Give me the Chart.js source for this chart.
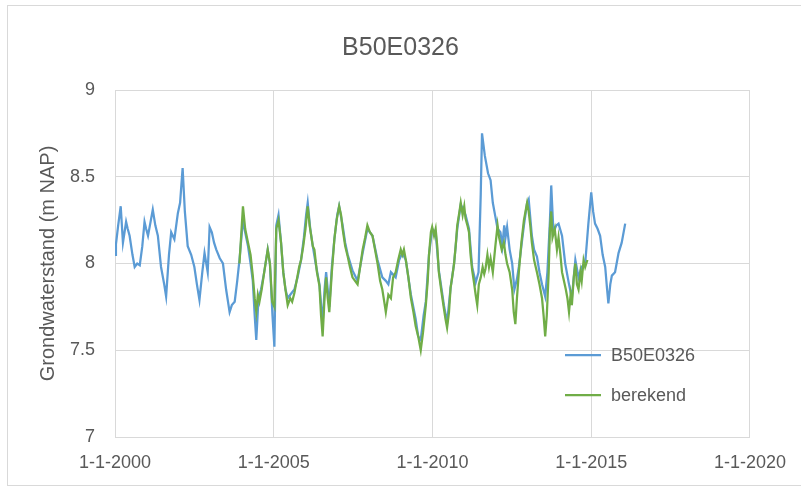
<!DOCTYPE html>
<html>
<head>
<meta charset="utf-8">
<script src="https://cdn.jsdelivr.net/npm/chart.js@4.4.0/dist/chart.umd.min.js"></script>
<style>
  html, body { margin: 0; padding: 0; background: #ffffff; }
  #wrap { position: relative; width: 801px; height: 488px; }
</style>
</head>
<body>
<div id="wrap"><canvas id="c" width="801" height="488"></canvas></div>
<script>
// ---- data ----
const chartTitle = 'B50E0326';
const yAxisTitle = 'Grondwaterstand (m NAP)';
const seriesNames = ['B50E0326', 'berekend'];
const xTickYears = [2000, 2005, 2010, 2015, 2020];
const yTicks = [7, 7.5, 8, 8.5, 9];

const measuredYears = [
  2000.00, 2000.03, 2000.10, 2000.18, 2000.25, 2000.30, 2000.35, 2000.40, 2000.46, 2000.55,
  2000.62, 2000.70, 2000.78, 2000.86, 2000.93, 2000.98, 2001.04, 2001.12, 2001.19, 2001.27,
  2001.35, 2001.45, 2001.55, 2001.61, 2001.70, 2001.77, 2001.87, 2001.98, 2002.05, 2002.13,
  2002.20, 2002.29, 2002.40, 2002.50, 2002.58, 2002.66, 2002.75, 2002.82, 2002.92, 2002.98,
  2003.05, 2003.12, 2003.19, 2003.30, 2003.40, 2003.50, 2003.61, 2003.68, 2003.77, 2003.85,
  2003.92, 2004.03, 2004.10, 2004.19, 2004.27, 2004.34, 2004.40, 2004.45, 2004.52, 2004.60,
  2004.70, 2004.81, 2004.88, 2004.96, 2005.02, 2005.08, 2005.15, 2005.23, 2005.30, 2005.37,
  2005.44, 2005.52, 2005.65, 2005.75, 2005.86, 2005.95, 2006.02, 2006.07, 2006.15, 2006.23,
  2006.32, 2006.44, 2006.54, 2006.60, 2006.65, 2006.75, 2006.83, 2006.91, 2007.00, 2007.06,
  2007.17, 2007.25, 2007.33, 2007.48, 2007.64, 2007.80, 2007.95, 2008.11, 2008.27, 2008.42,
  2008.53, 2008.61, 2008.69, 2008.84, 2008.95, 2009.05, 2009.16, 2009.32, 2009.47, 2009.55,
  2009.63, 2009.72, 2009.79, 2009.89, 2009.99, 2010.10, 2010.20, 2010.36, 2010.46, 2010.57,
  2010.68, 2010.78, 2010.89, 2011.04, 2011.15, 2011.25, 2011.36, 2011.45, 2011.52, 2011.56,
  2011.65, 2011.75, 2011.83, 2011.90, 2011.98, 2012.05, 2012.14, 2012.20, 2012.26, 2012.30,
  2012.35, 2012.43, 2012.51, 2012.58, 2012.66, 2012.72, 2012.80, 2012.88, 2012.98, 2013.03,
  2013.13, 2013.20, 2013.29, 2013.37, 2013.45, 2013.55, 2013.62, 2013.70, 2013.74, 2013.81,
  2013.90, 2013.97, 2014.08, 2014.18, 2014.29, 2014.39, 2014.50, 2014.60, 2014.70, 2014.81,
  2014.91, 2015.00, 2015.06, 2015.12, 2015.20, 2015.28, 2015.36, 2015.44, 2015.50, 2015.54,
  2015.60, 2015.65, 2015.75, 2015.80, 2015.86, 2015.96, 2016.07
];
const measuredValues = [
  8.05, 8.11, 8.22, 8.33, 8.12, 8.18, 8.24, 8.20, 8.16, 8.05,
  7.98, 8.00, 7.99, 8.10, 8.24, 8.20, 8.16, 8.24, 8.31, 8.22,
  8.16, 7.98, 7.88, 7.81, 8.05, 8.18, 8.14, 8.29, 8.35, 8.55,
  8.30, 8.10, 8.05, 7.98, 7.88, 7.79, 7.95, 8.06, 7.95, 8.21,
  8.18, 8.12, 8.08, 8.03, 8.00, 7.85, 7.72, 7.76, 7.78, 7.90,
  8.02, 8.25, 8.18, 8.10, 8.00, 7.90, 7.70, 7.56, 7.80, 7.85,
  7.95, 8.08, 8.00, 7.70, 7.52, 8.22, 8.28, 8.12, 7.95, 7.85,
  7.80, 7.82, 7.85, 7.92, 8.02, 8.15, 8.28, 8.35, 8.20, 8.10,
  8.00, 7.88, 7.65, 7.85, 7.95, 7.75, 7.98, 8.14, 8.28, 8.33,
  8.22, 8.12, 8.05, 7.96, 7.90, 8.06, 8.20, 8.16, 8.02, 7.92,
  7.90, 7.88, 7.95, 7.92, 8.02, 8.06, 8.02, 7.82, 7.68, 7.58,
  7.56, 7.70, 7.78, 8.05, 8.20, 8.18, 7.96, 7.76, 7.66, 7.86,
  8.00, 8.20, 8.34, 8.28, 8.20, 7.98, 7.89, 7.95, 8.40, 8.75,
  8.62, 8.52, 8.48, 8.35, 8.27, 8.20, 8.18, 8.10, 8.22, 8.15,
  8.21, 8.08, 8.00, 7.85, 7.91, 7.98, 8.10, 8.22, 8.35, 8.37,
  8.16, 8.08, 8.04, 7.95, 7.88, 7.81, 7.95, 8.25, 8.45, 8.18,
  8.22, 8.23, 8.16, 8.00, 7.89, 7.80, 8.02, 7.92, 7.98, 8.00,
  8.23, 8.41, 8.30, 8.23, 8.20, 8.16, 8.05, 7.98, 7.85, 7.77,
  7.88, 7.93, 7.95, 8.00, 8.06, 8.12, 8.23
];

const computedYears = [
  2003.92, 2003.97, 2004.03, 2004.10, 2004.19, 2004.27, 2004.34, 2004.40, 2004.45, 2004.50,
  2004.55, 2004.62, 2004.70, 2004.81, 2004.88, 2004.95, 2005.02, 2005.08, 2005.15, 2005.23,
  2005.30, 2005.37, 2005.44, 2005.52, 2005.58, 2005.65, 2005.72, 2005.80, 2005.86, 2005.93,
  2006.00, 2006.07, 2006.13, 2006.23, 2006.28, 2006.36, 2006.44, 2006.49, 2006.54, 2006.60,
  2006.65, 2006.70, 2006.75, 2006.83, 2006.91, 2006.98, 2007.06, 2007.12, 2007.17, 2007.25,
  2007.33, 2007.40, 2007.48, 2007.56, 2007.64, 2007.72, 2007.80, 2007.88, 2007.95, 2008.03,
  2008.11, 2008.19, 2008.27, 2008.35, 2008.42, 2008.48, 2008.53, 2008.61, 2008.69, 2008.76,
  2008.84, 2008.92, 2009.00, 2009.05, 2009.10, 2009.16, 2009.24, 2009.32, 2009.40, 2009.47,
  2009.55, 2009.63, 2009.70, 2009.79, 2009.85, 2009.89, 2009.95, 2009.99, 2010.05, 2010.10,
  2010.15, 2010.20, 2010.28, 2010.36, 2010.41, 2010.46, 2010.52, 2010.57, 2010.62, 2010.68,
  2010.73, 2010.78, 2010.85, 2010.89, 2010.95, 2011.00, 2011.04, 2011.10, 2011.15, 2011.20,
  2011.25, 2011.30, 2011.36, 2011.41, 2011.46, 2011.52, 2011.58, 2011.63, 2011.67, 2011.73,
  2011.78, 2011.83, 2011.90, 2011.98, 2012.05, 2012.10, 2012.18, 2012.25, 2012.30, 2012.35,
  2012.43, 2012.51, 2012.56, 2012.61, 2012.66, 2012.72, 2012.80, 2012.88, 2012.93, 2012.98,
  2013.03, 2013.08, 2013.13, 2013.20, 2013.29, 2013.37, 2013.45, 2013.50, 2013.55, 2013.60,
  2013.66, 2013.70, 2013.74, 2013.78, 2013.85, 2013.92, 2013.97, 2014.03, 2014.08, 2014.14,
  2014.20, 2014.25, 2014.30, 2014.35, 2014.39, 2014.45, 2014.50, 2014.55, 2014.60, 2014.66,
  2014.70, 2014.76, 2014.81, 2014.88
];
const computedValues = [
  8.00, 8.15, 8.33, 8.20, 8.12, 8.05, 7.93, 7.80, 7.72, 7.82,
  7.78, 7.85, 7.95, 8.08, 8.00, 7.78, 7.75, 8.20, 8.25, 8.12,
  7.95, 7.85, 7.76, 7.80, 7.78, 7.83, 7.90, 7.98, 8.02, 8.10,
  8.20, 8.33, 8.22, 8.10, 8.08, 7.95, 7.87, 7.70, 7.58, 7.80,
  7.92, 7.80, 7.72, 7.95, 8.14, 8.25, 8.33, 8.28, 8.20, 8.10,
  8.04, 7.98, 7.92, 7.90, 7.88, 7.98, 8.08, 8.15, 8.22, 8.18,
  8.16, 8.08, 8.00, 7.90, 7.85, 7.78, 7.72, 7.82, 7.80, 7.92,
  7.95, 8.02, 8.08, 8.05, 8.08, 8.02, 7.92, 7.80, 7.72, 7.64,
  7.58, 7.50, 7.60, 7.76, 7.90, 8.05, 8.18, 8.21, 8.16, 8.20,
  8.10, 7.95, 7.84, 7.74, 7.68, 7.63, 7.72, 7.86, 7.92, 8.00,
  8.10, 8.22, 8.30, 8.35, 8.28, 8.33, 8.26, 8.22, 8.18, 8.05,
  7.96, 7.90, 7.82, 7.76, 7.88, 7.92, 7.98, 7.94, 7.97, 8.05,
  7.98, 8.03, 7.95, 8.10, 8.22, 8.15, 8.08, 8.12, 8.05, 8.00,
  7.95, 7.85, 7.72, 7.65, 7.80, 7.95, 8.12, 8.25, 8.30, 8.35,
  8.30, 8.22, 8.12, 8.02, 7.95, 7.88, 7.80, 7.70, 7.58, 7.70,
  7.95, 8.20, 8.30, 8.15, 8.20, 8.08, 8.15, 8.05, 7.95, 7.90,
  7.85, 7.80, 7.72, 7.82, 7.76, 7.92, 8.00, 7.88, 7.85, 7.95,
  7.90, 8.02, 7.98, 8.02
];

// ---- styling ----
const seriesColors = ['#5B9BD5', '#70AD47'];
const textColor = '#595959';
const gridColor = '#D9D9D9';
const FONT = "'Liberation Sans', Arial, sans-serif";

function toPoints(xs, ys) { return xs.map((x, i) => ({ x: x, y: ys[i] })); }

const legendPlugin = {
  id: 'insideLegend',
  afterDatasetsDraw(chart) {
    const ctx = chart.ctx;
    const rows = [
      { name: seriesNames[0], color: seriesColors[0], y: 355 },
      { name: seriesNames[1], color: seriesColors[1], y: 395 }
    ];
    ctx.save();
    ctx.font = '18px ' + FONT;
    ctx.textBaseline = 'middle';
    ctx.textAlign = 'left';
    rows.forEach(r => {
      ctx.strokeStyle = r.color;
      ctx.lineWidth = 2.25;
      ctx.beginPath();
      ctx.moveTo(565, r.y);
      ctx.lineTo(601, r.y);
      ctx.stroke();
      ctx.fillStyle = textColor;
      ctx.fillText(r.name, 611, r.y + 1);
    });
    ctx.restore();
  }
};

const borderPlugin = {
  id: 'outerBorder',
  beforeDraw(chart) {
    const ctx = chart.ctx;
    ctx.save();
    ctx.fillStyle = '#ffffff';
    ctx.fillRect(0, 0, chart.width, chart.height);
    ctx.strokeStyle = '#D9D9D9';
    ctx.lineWidth = 1;
    ctx.strokeRect(7.5, 5.5, 800, 480);
    ctx.restore();
  }
};

new Chart(document.getElementById('c'), {
  type: 'line',
  data: {
    datasets: [
      {
        label: seriesNames[0],
        data: toPoints(measuredYears, measuredValues),
        borderColor: seriesColors[0],
        backgroundColor: seriesColors[0],
        borderWidth: 2.25,
        pointRadius: 0,
        tension: 0,
        order: 1
      },
      {
        label: seriesNames[1],
        data: toPoints(computedYears, computedValues),
        borderColor: seriesColors[1],
        backgroundColor: seriesColors[1],
        borderWidth: 2.25,
        pointRadius: 0,
        tension: 0,
        order: 0
      }
    ]
  },
  options: {
    responsive: false,
    animation: false,
    devicePixelRatio: 1,
    layout: { padding: { left: 0, right: 0, top: 0, bottom: 0 } },
    plugins: {
      legend: { display: false },
      tooltip: { enabled: false },
      title: {
        display: true,
        text: chartTitle,
        color: textColor,
        font: { family: FONT, size: 25, weight: 'normal', lineHeight: 1.2 },
        padding: { top: 33, bottom: 27 }
      }
    },
    scales: {
      x: {
        type: 'linear',
        min: xTickYears[0],
        max: xTickYears[xTickYears.length - 1],
        afterBuildTicks(scale) { scale.ticks = xTickYears.map(v => ({ value: v })); },
        afterFit(scale) { scale.height = 51; },
        ticks: {
          color: textColor,
          font: { family: FONT, size: 18 },
          padding: 15,
          maxRotation: 0,
          autoSkip: false,
          callback: v => '1-1-' + v
        },
        grid: { color: gridColor, lineWidth: 1, drawTicks: false, tickLength: 0 },
        border: { color: gridColor, width: 1 }
      },
      y: {
        type: 'linear',
        position: 'left',
        min: yTicks[0],
        max: yTicks[yTicks.length - 1],
        afterBuildTicks(scale) { scale.ticks = yTicks.map(v => ({ value: v })); },
        afterFit(scale) { scale.width = 115; },
        ticks: {
          color: textColor,
          font: { family: FONT, size: 18 },
          padding: 20,
          callback: v => String(v)
        },
        grid: { color: gridColor, lineWidth: 1, drawTicks: false, tickLength: 0 },
        border: { color: gridColor, width: 1 },
        title: {
          display: true,
          text: yAxisTitle,
          color: textColor,
          font: { family: FONT, size: 20, weight: 'normal', lineHeight: 1.2 },
          padding: { top: 36, bottom: 0 }
        }
      },
      ySpacer: {
        type: 'linear',
        position: 'right',
        display: true,
        min: yTicks[0],
        max: yTicks[yTicks.length - 1],
        afterFit(scale) { scale.width = 51; },
        ticks: { display: false },
        grid: { display: false, drawTicks: false },
        border: { display: false }
      }
    }
  },
  plugins: [borderPlugin, legendPlugin]
});
</script>
</body>
</html>
